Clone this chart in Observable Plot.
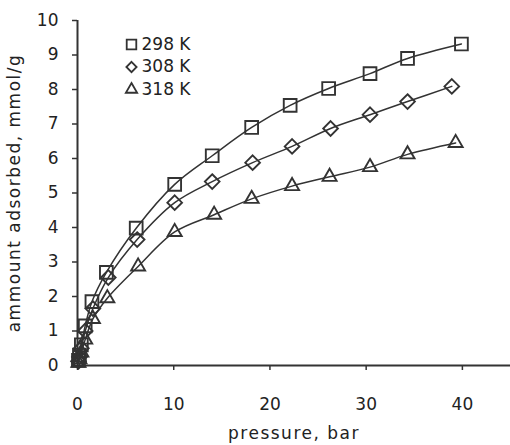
<!DOCTYPE html>
<html>
<head>
<meta charset="utf-8">
<script src="https://cdn.jsdelivr.net/npm/d3@7"></script>
<script src="https://cdn.jsdelivr.net/npm/@observablehq/plot@0.6"></script>
<style>
  html, body { margin: 0; padding: 0; background: #fff; }
  #chart svg { display: block; }
</style>
</head>
<body>
<div id="chart"></div>
<script>
// Series: temperature labels
const seriesNames = ["298 K", "308 K", "318 K"];
const seriesSymbols = ["square", "diamond2", "triangle"];

// pressure (bar) and amount adsorbed (mmol/g)
const p298 = [0.1, 0.2, 0.4, 0.8, 1.5, 3.0, 6.1, 10.1, 14.0, 18.1, 22.1, 26.1, 30.4, 34.3, 39.9];
const q298 = [0.15, 0.3, 0.6, 1.15, 1.85, 2.7, 3.98, 5.25, 6.08, 6.9, 7.54, 8.03, 8.46, 8.9, 9.32];

const p308 = [0.1, 0.2, 0.4, 0.8, 1.6, 3.2, 6.2, 10.1, 14.0, 18.2, 22.3, 26.3, 30.4, 34.3, 38.9];
const q308 = [0.12, 0.25, 0.5, 1.0, 1.65, 2.55, 3.65, 4.72, 5.33, 5.88, 6.35, 6.87, 7.27, 7.65, 8.09];

const p318 = [0.1, 0.2, 0.4, 0.8, 1.6, 3.1, 6.3, 10.1, 14.2, 18.1, 22.3, 26.2, 30.4, 34.3, 39.3];
const q318 = [0.08, 0.18, 0.38, 0.75, 1.35, 1.95, 2.87, 3.87, 4.37, 4.83, 5.2, 5.47, 5.75, 6.12, 6.45];

// tick labels
const xTicks = [0, 10, 20, 30, 40];
const yTicks = [0, 1, 2, 3, 4, 5, 6, 7, 8, 9, 10];

const xLabel = "pressure, bar";
const yLabel = "ammount adsorbed, mmol/g";

const pressures = [p298, p308, p318];
const amounts = [q298, q308, q318];

const data = seriesNames.flatMap((s, i) =>
  pressures[i].map((p, j) => ({series: s, p, q: amounts[i][j]}))
);

const ink = "#333";
const textColor = "#222";
const font = "DejaVu Sans, Verdana, sans-serif";

const markerR = [7.2, 6.6, 5.2];
const legendR = [5.4, 4.6, 4.2];

const dotMarks = seriesNames.map((s, i) =>
  Plot.dot(data.filter(d => d.series === s), {
    x: "p", y: "q", symbol: seriesSymbols[i], r: markerR[i],
    stroke: ink, strokeWidth: 1.9, fill: "none"
  })
);

const legendMarks = seriesNames.flatMap((s, i) => [
  Plot.dot([s], {
    frameAnchor: "top-left", dx: 54, dy: 24 + i * 22.5,
    symbol: seriesSymbols[i], r: legendR[i],
    stroke: ink, strokeWidth: 1.8, fill: "none"
  }),
  Plot.text([s], {
    frameAnchor: "top-left", dx: 64, dy: 24 + i * 22.5,
    text: d => d, textAnchor: "start", lineAnchor: "middle",
    fontSize: 17, fill: textColor, fontFamily: font, letterSpacing: 0.5
  })
]);

const chart = Plot.plot({
  width: 510,
  height: 445,
  marginLeft: 77,
  marginRight: 0,
  marginTop: 20,
  marginBottom: 80,
  style: {fontFamily: font, color: textColor, background: "#fff"},
  x: {domain: [0, 45]},
  y: {domain: [0, 10]},
  marks: [
    Plot.axisX({
      ticks: xTicks, tickSize: 5, tickPadding: 27, tickFormat: d => String(d),
      fontSize: 17, stroke: ink, strokeWidth: 1.5,
      label: xLabel, labelAnchor: "center", labelArrow: "none", labelOffset: 73
    }),
    Plot.axisY({
      ticks: yTicks, tickSize: 5, tickPadding: 14, tickFormat: d => String(d),
      fontSize: 17, stroke: ink, strokeWidth: 1.5,
      label: yLabel, labelAnchor: "center", labelArrow: "none", labelOffset: 70
    }),
    Plot.ruleY([0], {stroke: ink, strokeWidth: 2}),
    Plot.ruleX([0], {stroke: ink, strokeWidth: 2}),
    Plot.line(data, {x: "p", y: "q", z: "series", curve: "catmull-rom", stroke: ink, strokeWidth: 1.5}),
    ...dotMarks,
    ...legendMarks
  ]
});

// style tweaks for axis text
d3.select(chart).selectAll("g[aria-label='x-axis label'] text, g[aria-label='y-axis label'] text")
  .attr("font-size", 17).style("letter-spacing", "1.5px");

document.getElementById("chart").append(chart);
</script>
</body>
</html>
